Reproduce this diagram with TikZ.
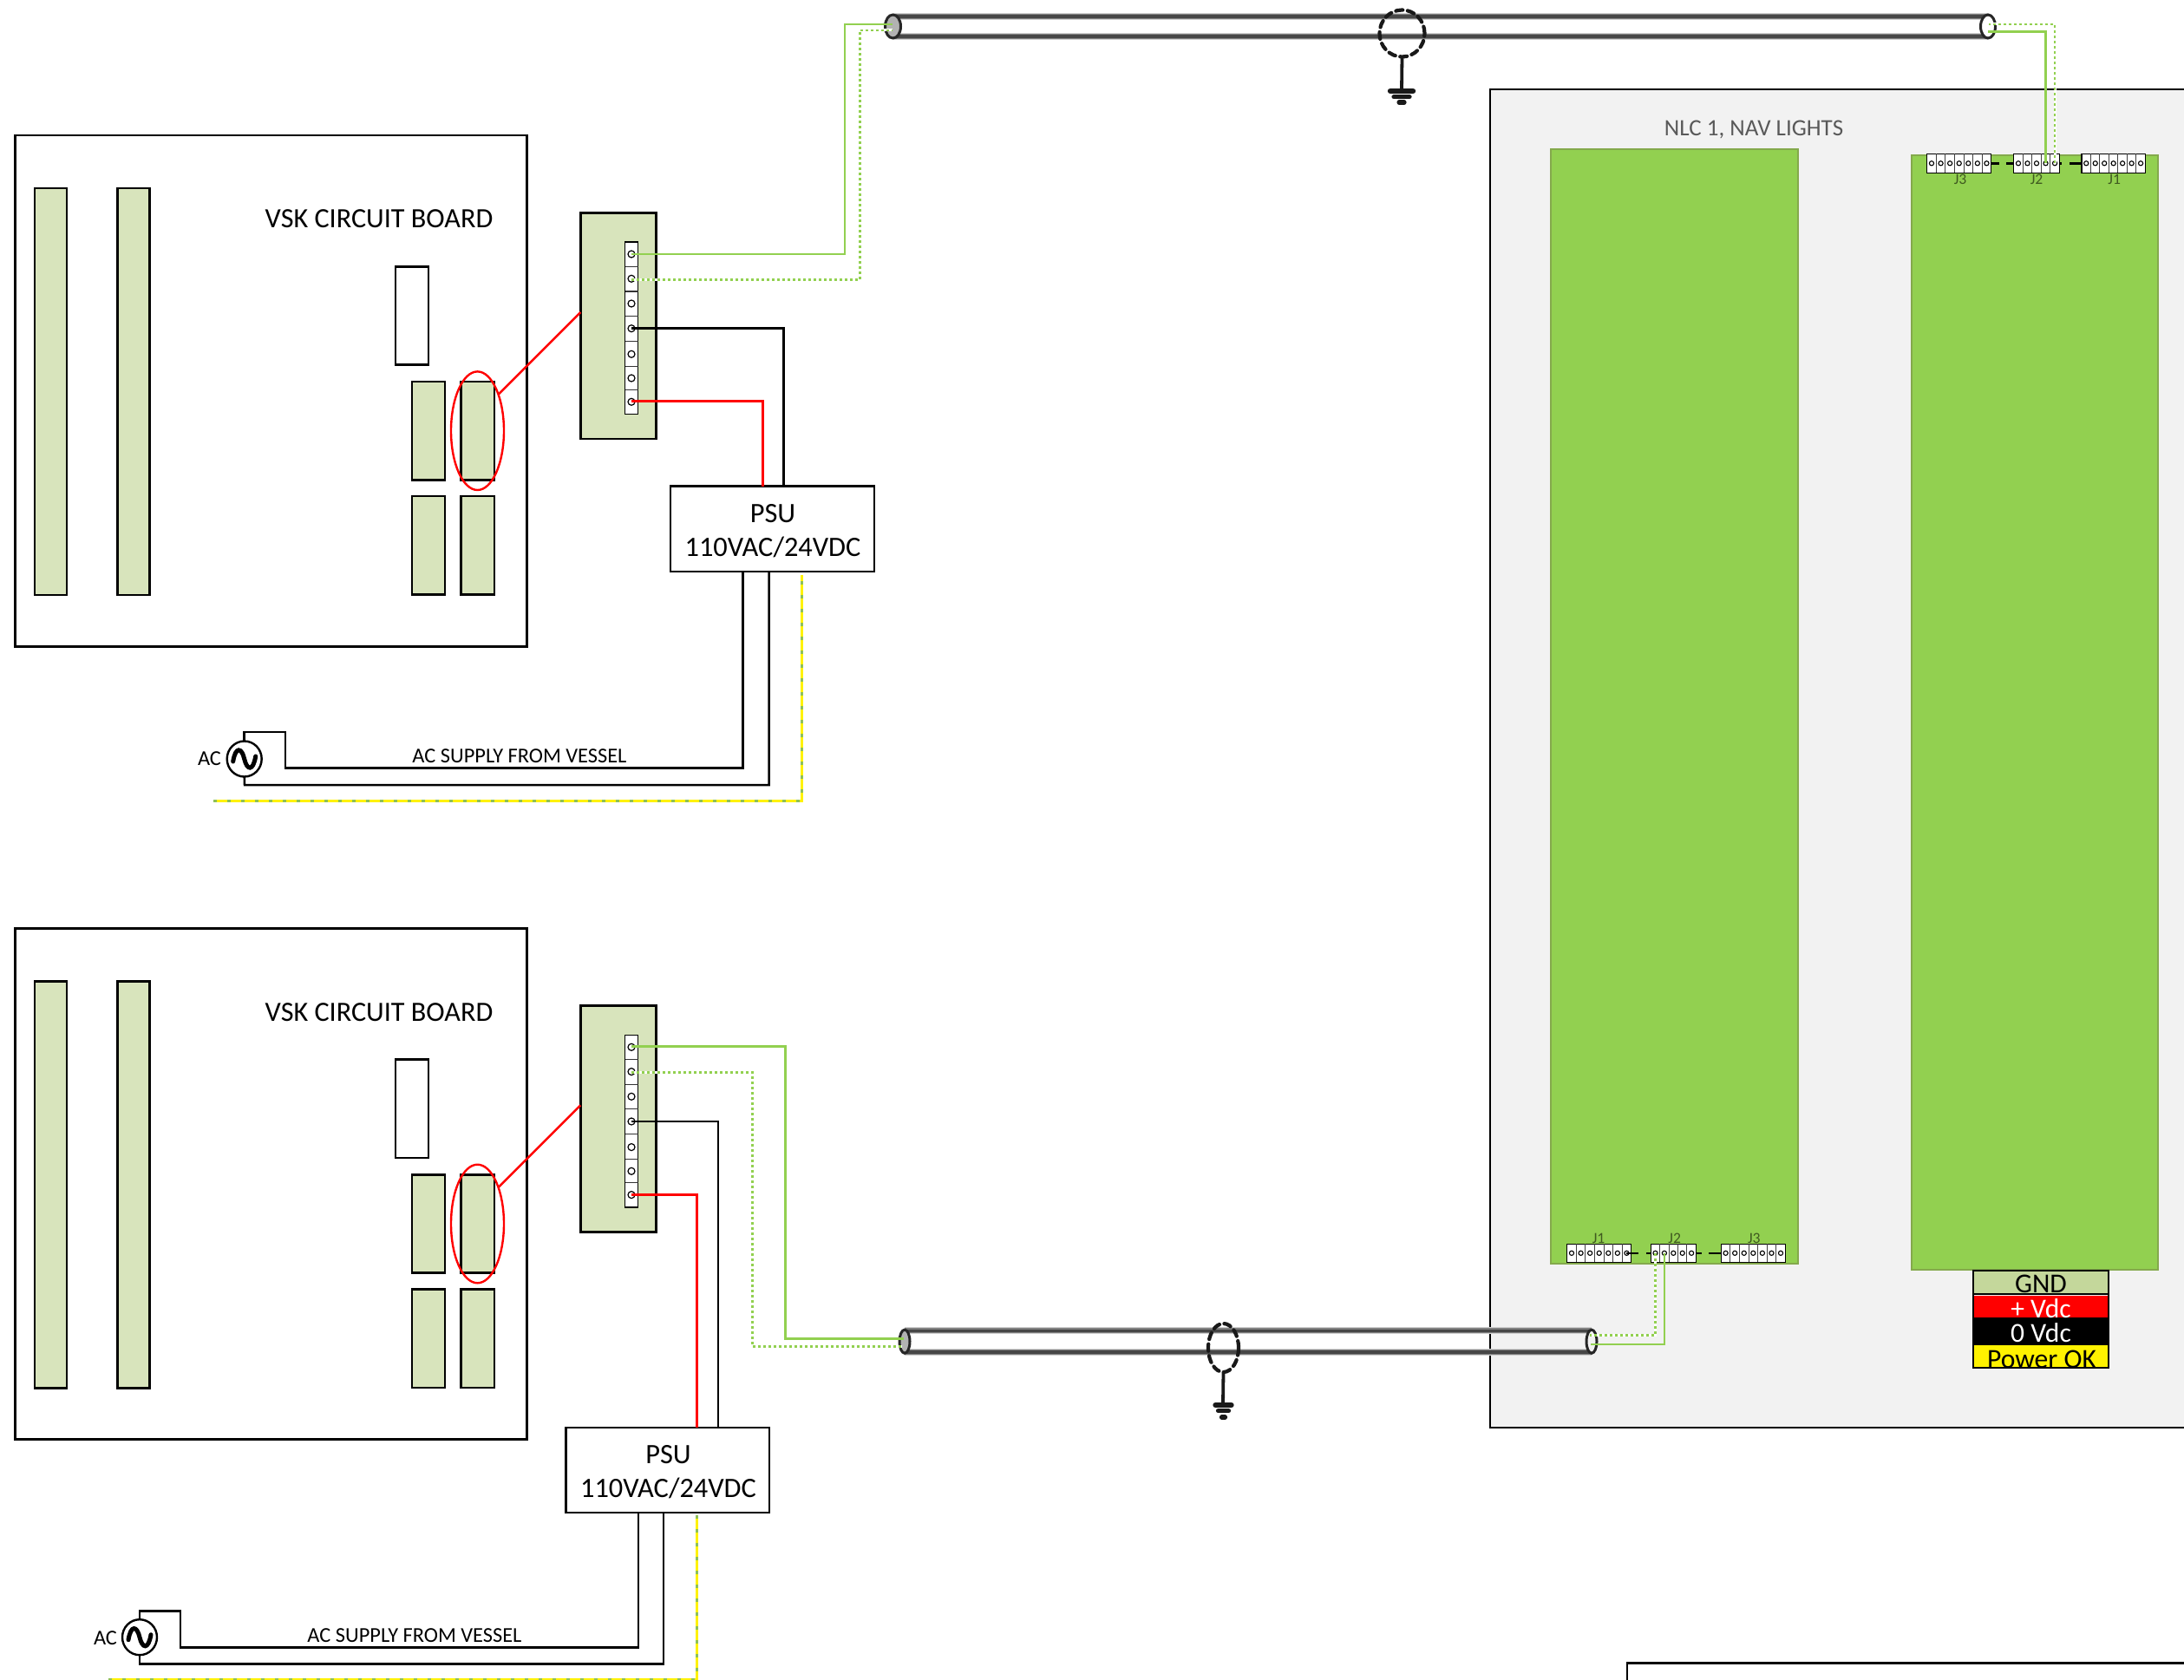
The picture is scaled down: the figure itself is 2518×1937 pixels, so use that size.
\documentclass[tikz,border=0pt]{standalone}
\usepackage{fontspec}
\setmainfont{Carlito}
\usetikzlibrary{shapes.geometric}
\definecolor{pale}{HTML}{D8E4BC}
\definecolor{lime}{HTML}{92D050}
\definecolor{limeedge}{HTML}{84A94C}
\definecolor{panel}{HTML}{F2F2F2}
\definecolor{gndc}{HTML}{C4D79B}
\definecolor{navtext}{HTML}{595959}
\definecolor{jtext}{HTML}{3F5A20}
\newcommand{\rectnode}[7]{%
  \pgfmathsetmacro\rnw{(#4-#2)*0.5}%
  \pgfmathsetmacro\rnh{(#5-#3)*0.5}%
  \node[rectangle,inner sep=0pt,outer sep=0pt,minimum width=\rnw pt,minimum height=\rnh pt,#6] (#1) at ({(#2+#4)/2},{(#3+#5)/2}) {#7};}
\newcommand{\ovalnode}[6]{%
  \node[ellipse,inner sep=0pt,outer sep=0pt,minimum width=#4 pt,minimum height=#5 pt,#6] (#1) at (#2,#3) {};}
% connector strip: name,x1,y1,x2,y2,cells
\newcommand{\jconn}[6]{%
  \rectnode{#1}{#2}{#3}{#4}{#5}{draw=black,fill=white,line width=0.7pt}{}%
  \pgfmathsetmacro\jcw{(#4-#2)/#6}%
  \foreach \k in {1,...,#6}{%
    \pgfmathsetmacro\jx{#2+(\k-0.5)*\jcw}%
    \pgfmathsetmacro\jy{(#3+#5)/2}%
    \node[circle,draw=black,fill=white,line width=0.55pt,inner sep=0pt,outer sep=0pt,minimum size=2.6pt] (#1-\k) at (\jx,\jy) {};
    \ifnum\k<#6
      \pgfmathsetmacro\jxx{#2+\k*\jcw}%
      \draw[line width=0.5pt,draw=black!75] (\jxx,#3) -- (\jxx,#5);
    \fi}}
% one VSK board and its terminal board
\newcommand{\vskunit}[2]{%
\begin{scope}[shift={(0,#2)}]
  \rectnode{vsk#1}{17.7}{156}{607.3}{745.5}{outline,fill=white}{}
  \rectnode{vsk#1a}{40}{217}{77}{686}{partbox}{}
  \rectnode{vsk#1b}{135.5}{217}{172.5}{686}{partbox}{}
  \rectnode{vsk#1c}{456}{307.5}{494}{420.7}{outline,fill=white}{}
  \rectnode{vsk#1d}{475}{439.9}{513}{553.3}{partbox}{}
  \rectnode{vsk#1e}{531.3}{439.9}{570}{553.3}{partbox}{}
  \rectnode{vsk#1f}{475}{572}{513}{685.7}{partbox}{}
  \rectnode{vsk#1g}{531.3}{572}{570}{685.7}{partbox}{}
  \node[font=\fontsize{16.1}{18}\selectfont] (vsk#1t) at (437,252.5) {VSK CIRCUIT BOARD};
  \ovalnode{vsk#1o}{550.5}{496.7}{30.5}{68.3}{draw=red,line width=1.2pt}
  \rectnode{tb#1}{669.3}{245.3}{756.7}{506}{outline,fill=pale}{}
  \rectnode{ts#1}{720.7}{279}{735.7}{477.7}{draw=black,fill=white,line width=0.7pt}{}
  \foreach \yy in {307.3,336,364.3,393.3,422.3,449.3}{\draw[line width=0.6pt,draw=black!80] (720.7,\yy) -- (735.7,\yy);}
  \foreach \i/\yy in {1/293,2/321.3,3/350,4/378.7,5/408.3,6/436,7/463.3}{%
    \node[circle,draw=black,line width=0.6pt,inner sep=0pt,outer sep=0pt,minimum size=4pt] (tb#1-\i) at (728,\yy) {};}
  \coordinate (rl#1a) at (575,454.3);
  \coordinate (rl#1b) at (669.3,360);
  \draw[redwire] (rl#1a) -- (rl#1b);
\end{scope}}
% AC source: number, cx, cy
\newcommand{\acsource}[3]{%
  \ovalnode{ac#1}{#2}{#3}{20}{20.5}{draw=black,fill=white,line width=1.2pt}
  \begin{scope}[shift={(#2,#3)}]
    \draw[line width=2.5pt,line cap=round] (-13,3) .. controls (-10,-15) and (-3,-13) .. (0,0) .. controls (3,13) and (10,15) .. (13,-3);
  \end{scope}}
\tikzset{
  x=0.5pt,y=-0.5pt,
  outline/.style={draw=black,line width=1.4pt},
  partbox/.style={draw=black,fill=pale,line width=1.3pt},
  blackwire/.style={draw=black,line width=1.25pt},
  redwire/.style={draw=red,line width=1.25pt},
  greenwire/.style={draw=lime,line width=1.25pt},
  greendot/.style={preaction={draw=white,line width=1.5pt},draw=lime,line width=1.4pt,dash pattern=on 1.5pt off 1.5pt},
  earthwire/.style={preaction={draw=yellow,line width=1.5pt},draw=lime!80!gray,line width=1.5pt,dash pattern=on 2pt off 6pt},
  cable/.style={preaction={draw=black!18,line width=4pt},preaction={draw=black!50,line width=3pt},draw=black!72,line width=1.8pt},
  cableend/.style={draw=black!85,line width=1.5pt},
  shield/.style={draw=black!90,line width=2.1pt,dash pattern=on 4pt off 2.8pt,line cap=round},
  gndbar/.style={draw=black!90,line width=3.2pt,line cap=round},
  gndbarthin/.style={draw=black!90,line width=2.6pt,line cap=round},
  vlabel/.style={font=\fontsize{16.2}{19.5}\selectfont,align=center},
  small/.style={font=\fontsize{12.2}{14}\selectfont},
  jlabel/.style={font=\fontsize{8.8}{10}\selectfont,text=jtext,inner sep=0pt},
  legend/.style={font=\fontsize{15.8}{18}\selectfont,inner sep=0pt},
}
\begin{document}
\begin{tikzpicture}
\useasboundingbox (0,0) rectangle (2518,1937);
\fill[white] (0,0) rectangle (2518,1937);
% NLC panel
\rectnode{panel}{1718}{103.3}{2530}{1645.7}{draw=black,fill=panel,line width=0.9pt}{}
\node[font=\fontsize{13.5}{16}\selectfont,text=navtext] (nlctitle) at (2022,149.5) {NLC 1, NAV LIGHTS};
\rectnode{boardl}{1788}{172}{2072.7}{1456.7}{draw=limeedge,fill=lime,line width=1pt}{}
\rectnode{boardr}{2204}{178.7}{2488}{1464}{draw=limeedge,fill=lime,line width=1pt}{}
% connectors, right board
\jconn{j3t}{2221.7}{177.3}{2295.7}{199.3}{7}
\jconn{j2t}{2321.7}{177.3}{2374.3}{199.3}{5}
\jconn{j1t}{2400}{177.3}{2473.3}{199.3}{7}
\node[jlabel] (j3tl) at (2260,207) {J3};
\node[jlabel] (j2tl) at (2348,207) {J2};
\node[jlabel] (j1tl) at (2437.7,207) {J1};
\draw[blackwire] (j3t.east) -- ++(9.3,0);
\draw[blackwire] (j2t.west) -- ++(-8.7,0);
\draw[blackwire] (j2t.east) -- ++(2.4,0);
\draw[blackwire] (j1t.west) -- ++(-14.3,0);
% connectors, left board
\jconn{j1b}{1806.7}{1434.3}{1880.7}{1455.3}{7}
\jconn{j2b}{1903.3}{1434.3}{1955.3}{1455.3}{5}
\jconn{j3b}{1984.3}{1434.3}{2058.3}{1455.3}{7}
\node[jlabel] (j1bl) at (1843,1428) {J1};
\node[jlabel] (j2bl) at (1930.7,1428) {J2};
\node[jlabel] (j3bl) at (2022.3,1428) {J3};
\draw[blackwire] (j1b-7.center) -- ++(14,0);
\draw[blackwire] (j2b.west) -- ++(-5.3,0);
\draw[blackwire] (j2b.east) -- ++(6.4,0);
\draw[blackwire] (j3b.west) -- ++(-14.3,0);
% legend
\rectnode{lgnd}{2275.3}{1465.3}{2431}{1492.3}{draw=black,fill=gndc,line width=1pt}{}
\rectnode{lred}{2275.3}{1494}{2431}{1519}{fill=red}{}
\rectnode{lblk}{2275.3}{1519}{2431}{1549.5}{fill=black}{}
\rectnode{lyel}{2275.3}{1549.5}{2431}{1577.3}{draw=black,fill=yellow,line width=1pt}{}
\draw[draw=black,line width=1pt] (lgnd.north west) rectangle (lyel.south east);
\node[legend] (lgndt) at (2353,1480.5) {GND};
\node[legend,text=white] (lredt) at (2353,1509) {+ Vdc};
\node[legend,text=white] (lblkt) at (2353,1536.5) {0 Vdc};
\node[legend] (lyelt) at (2354,1567) {Power OK};
% VSK units
\vskunit{1}{0}
\vskunit{2}{914.3}
% PSUs
\rectnode{psu1}{773}{560.7}{1008}{659}{outline,fill=white}{}
\node[vlabel] (psu1t) at (891,612) {PSU\\110VAC/24VDC};
\rectnode{psu2}{652.5}{1646}{887}{1744}{outline,fill=white}{}
\node[vlabel] (psu2t) at (770.5,1697.5) {PSU\\110VAC/24VDC};
% terminal to PSU
\coordinate (bk1) at (903.3,560.7);
\coordinate (rd1) at (879.3,560.7);
\coordinate (bk2) at (828,1646);
\coordinate (rd2) at (803.7,1646);
\draw[blackwire] (tb1-4.center) -| (bk1);
\draw[redwire] (tb1-7.center) ++(0,-1) -| (rd1);
\draw[blackwire] (tb2-4.center) -| (bk2);
\draw[redwire] (tb2-7.center) -| (rd2);
% cables
\coordinate (ctla) at (1029.5,19);
\coordinate (ctlb) at (1029.5,42);
\coordinate (ctra) at (2292,19);
\coordinate (ctrb) at (2292,42);
\coordinate (cbla) at (1043,1534.3);
\coordinate (cblb) at (1043,1558.8);
\coordinate (cbra) at (1835,1534.3);
\coordinate (cbrb) at (1835,1558.8);
\draw[cable] (ctla) -- (ctra);
\draw[cable] (ctlb) -- (ctrb);
\draw[cable] (cbla) -- (cbra);
\draw[cable] (cblb) -- (cbrb);
\ovalnode{ctl}{1029.5}{30.5}{9}{13.5}{cableend,fill=black!30}
\ovalnode{ctr}{2292}{30.5}{8.5}{13.5}{cableend,fill=white}
\ovalnode{cbl}{1043}{1546.7}{6}{13.5}{cableend,fill=black!30}
\ovalnode{cbr}{1835}{1546.7}{6}{13.5}{cableend,fill=panel}
% shields and grounds
\ovalnode{sh1}{1616.5}{38.5}{26}{27}{shield}
\coordinate (g1) at (1616,103);
\draw[draw=black!90,line width=1.9pt] (sh1.south) -- (g1);
\coordinate (g1a) at (1616,105);
\coordinate (g1b) at (1616,111.7);
\coordinate (g1c) at (1616,118);
\draw[gndbar] ([xshift=-6.5pt]g1a) -- ([xshift=6.5pt]g1a);
\draw[gndbarthin] ([xshift=-4.5pt]g1b) -- ([xshift=4.5pt]g1b);
\draw[gndbarthin] ([xshift=-1.5pt]g1c) -- ([xshift=1.5pt]g1c);
\ovalnode{sh2}{1410.5}{1554}{17.5}{28}{shield}
\coordinate (g2) at (1410,1618);
\draw[draw=black!90,line width=1.9pt] (sh2.south) -- (g2);
\coordinate (g2a) at (1410.5,1620);
\coordinate (g2b) at (1410.5,1626.7);
\coordinate (g2c) at (1410.5,1634);
\draw[gndbar] ([xshift=-4.5pt]g2a) -- ([xshift=4.5pt]g2a);
\draw[gndbarthin] ([xshift=-3pt]g2b) -- ([xshift=3pt]g2b);
\draw[gndbarthin] ([xshift=-1pt]g2c) -- ([xshift=1pt]g2c);
% signal wires top
\coordinate (w1a) at (974,28);
\coordinate (w1b) at (1029,28);
\coordinate (w2a) at (991.7,35);
\coordinate (w2b) at (1029,35);
\coordinate (w3) at (2293,28);
\coordinate (w4) at (2292,36.7);
\draw[greenwire] (tb1-1.center) -| (w1a) -- (w1b);
\draw[greendot] (tb1-2.center) ++(0,1.4) -| (w2a) -- (w2b);
\draw[greenwire] (j2t-4.center) |- (w4);
\draw[greendot] (j2t-5.center) |- (w3);
% signal wires bottom
\coordinate (w5a) at (905.7,1543.3);
\coordinate (w5b) at (1041.7,1543.3);
\coordinate (w6a) at (867.7,1552.7);
\coordinate (w6b) at (1040,1552.7);
\coordinate (w7) at (1833,1539.3);
\coordinate (w8) at (1834,1550);
\draw[greenwire] (tb2-1.center) ++(0,-1) -| (w5a) -- (w5b);
\draw[greendot] (tb2-2.center) ++(0,1) -| (w6a) -- (w6b);
\draw[greendot] (j2b-1.center) |- (w7);
\draw[greenwire] (j2b-2.center) |- (w8);
% AC supply 1
\acsource{1}{281.7}{875}
\coordinate (a1a) at (328.8,844);
\coordinate (a1b) at (328.8,885.7);
\coordinate (a1c) at (856.7,659);
\coordinate (a1d) at (886.7,659);
\coordinate (a1e) at (282,905);
\draw[blackwire] (ac1.north) |- (a1a) -- (a1b) -| (a1c);
\draw[blackwire] (ac1.south) -- (a1e) -| (a1d);
\coordinate (e1a) at (246,923.7);
\coordinate (e1b) at (924.5,923.7);
\coordinate (e1c) at (924.5,663);
\draw[earthwire] (e1a) -- (e1b) -- (e1c);
\node[small] (aclab1) at (241.5,875) {AC};
\node[small] (actxt1) at (599,871.7) {AC SUPPLY FROM VESSEL};
% AC supply 2
\acsource{2}{161}{1887.7}
\coordinate (a2a) at (207.8,1857.7);
\coordinate (a2b) at (207.8,1899.3);
\coordinate (a2c) at (736,1744);
\coordinate (a2d) at (765,1744);
\coordinate (a2e) at (161,1918.3);
\draw[blackwire] (ac2.north) |- (a2a) -- (a2b) -| (a2c);
\draw[blackwire] (ac2.south) -- (a2e) -| (a2d);
\coordinate (e2a) at (125,1936.3);
\coordinate (e2b) at (803.5,1936.3);
\coordinate (e2c) at (803.5,1747);
\draw[earthwire] (e2a) -- (e2b) -- (e2c);
\node[small] (aclab2) at (121.5,1889) {AC};
\node[small] (actxt2) at (478,1885.7) {AC SUPPLY FROM VESSEL};
% frame at the lower right
\coordinate (f1) at (1876,1945);
\coordinate (f2) at (1876,1917.5);
\coordinate (f3) at (2530,1917.5);
\draw[blackwire] (f1) -- (f2) -- (f3);
\end{tikzpicture}
\end{document}
